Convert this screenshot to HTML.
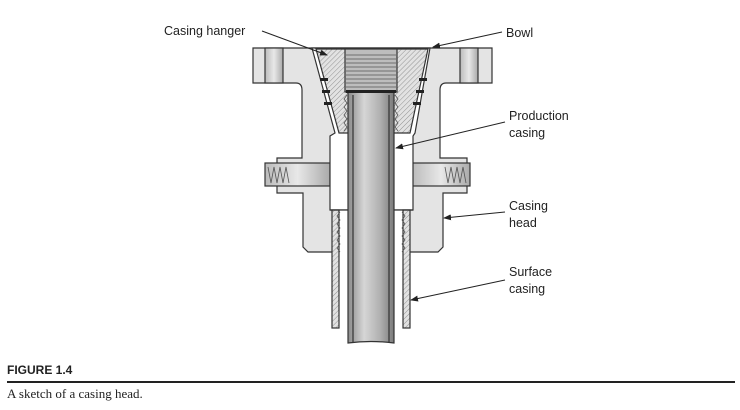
<!DOCTYPE html>
<html><head><meta charset="utf-8"><style>
html,body{margin:0;padding:0;background:#fff;width:740px;height:410px;overflow:hidden}
svg{display:block}
</style></head><body>
<svg width="740" height="410" viewBox="0 0 740 410" xmlns="http://www.w3.org/2000/svg">
<defs>
<pattern id="h" width="3.5" height="3.5" patternUnits="userSpaceOnUse" patternTransform="rotate(45)">
<rect width="4" height="4" fill="#e2e2e2"/><line x1="0" y1="0" x2="0" y2="4" stroke="#8a8a8a" stroke-width="0.9"/></pattern>
<linearGradient id="pc" x1="0" x2="1"><stop offset="0" stop-color="#8a8a8a"/><stop offset="0.35" stop-color="#d6d6d6"/><stop offset="0.7" stop-color="#b0b0b0"/><stop offset="1" stop-color="#7a7a7a"/></linearGradient>
<linearGradient id="bh" x1="0" x2="1"><stop offset="0" stop-color="#bbb"/><stop offset="0.5" stop-color="#e8e8e8"/><stop offset="1" stop-color="#aaa"/></linearGradient>
<marker id="a" markerWidth="8" markerHeight="6" refX="7" refY="3" orient="auto"><path d="M0,0 L8,3 L0,6 z" fill="#222"/></marker>
</defs>
<g stroke="#333" stroke-width="1.2">
<path d="M253,48 H492 V83 H446 Q440,83 440,90 V158 H467 V193 H443 V247 L438,252 H308 L303,247 V193 H277 V158 H302 V90 Q302,83 296,83 H253 Z" fill="#e4e4e4"/>
<rect x="265" y="48" width="18" height="35" fill="url(#bh)"/>
<rect x="460" y="48" width="18" height="35" fill="url(#bh)"/>
<rect x="265" y="163" width="65" height="23" fill="url(#bh)"/>
<rect x="412" y="163" width="58" height="23" fill="url(#bh)"/>
<path d="M312,48 H430 L415,133 L413,136 V210 H330 V136 L335,133 Z" fill="#fff"/>
<path d="M316,49 H428 L410,133 H339 Z" fill="url(#h)"/>
<rect x="345" y="49" width="52" height="43" fill="#bdbdbd"/>
<rect x="339" y="210" width="64" height="118" fill="#fff" stroke="none"/>
<rect x="332" y="210" width="7" height="118" fill="url(#h)"/>
<rect x="403" y="210" width="7" height="118" fill="url(#h)"/>
<line x1="330" y1="210" x2="413" y2="210"/>
<path d="M348,92 H394 V343 Q371,340 348,343 Z" fill="url(#pc)"/>
<line x1="353" y1="95" x2="353" y2="343"/><line x1="389" y1="95" x2="389" y2="343"/>
</g>
<g stroke="#555" stroke-width="0.8" fill="none">
<path d="M346,55 H396 M346,59 H396 M346,63 H396 M346,67 H396 M346,71 H396 M346,75 H396 M346,79 H396 M346,83 H396 M346,87 H396"/>
<path d="M268,167 l3,16 l3,-16 l3,16 l3,-16 l3,16 l3,-16 l3,16"/>
<path d="M445,167 l3,16 l3,-16 l3,16 l3,-16 l3,16 l3,-16 l3,16"/>
<path d="M340,212 l-3,4 l3,4 l-3,4 l3,4 l-3,4 l3,4 l-3,4 l3,4 l-3,4 l3,4"/>
<path d="M402,212 l3,4 l-3,4 l3,4 l-3,4 l3,4 l-3,4 l3,4 l-3,4 l3,4 l-3,4"/>
<path d="M347,95 l-3,4 l3,4 l-3,4 l3,4 l-3,4 l3,4 l-3,4 l3,4 l-3,4"/>
<path d="M395,95 l3,4 l-3,4 l3,4 l-3,4 l3,4 l-3,4 l3,4 l-3,4 l3,4"/>
</g>
<g fill="#222">
<rect x="320" y="78" width="8" height="3"/><rect x="322" y="90" width="8" height="3"/><rect x="324" y="102" width="8" height="3"/>
<rect x="419" y="78" width="8" height="3"/><rect x="416" y="90" width="8" height="3"/><rect x="413" y="102" width="8" height="3"/>
<rect x="346" y="90" width="50" height="3"/>
</g>
<g stroke="#222" stroke-width="1" marker-end="url(#a)">
<line x1="262" y1="31" x2="327" y2="55"/>
<line x1="502" y1="32" x2="433" y2="47"/>
<line x1="505" y1="122" x2="396" y2="148"/>
<line x1="505" y1="212" x2="444" y2="218"/>
<line x1="505" y1="280" x2="411" y2="300"/>
</g>
<g font-family="Liberation Sans, sans-serif" font-size="12.5" fill="#222">
<text x="164" y="35">Casing hanger</text>
<text x="506" y="37">Bowl</text>
<text x="509" y="120">Production</text><text x="509" y="137">casing</text>
<text x="509" y="210">Casing</text><text x="509" y="227">head</text>
<text x="509" y="276">Surface</text><text x="509" y="293">casing</text>
</g>
<text x="7" y="374" font-family="Liberation Sans Narrow, Liberation Sans, sans-serif" font-weight="bold" font-size="12" fill="#222">FIGURE 1.4</text>
<rect x="7" y="381" width="728" height="2" fill="#222"/>
<text x="7" y="398" font-family="Liberation Serif, serif" font-size="13" fill="#222">A sketch of a casing head.</text>
</svg>
</body></html>
